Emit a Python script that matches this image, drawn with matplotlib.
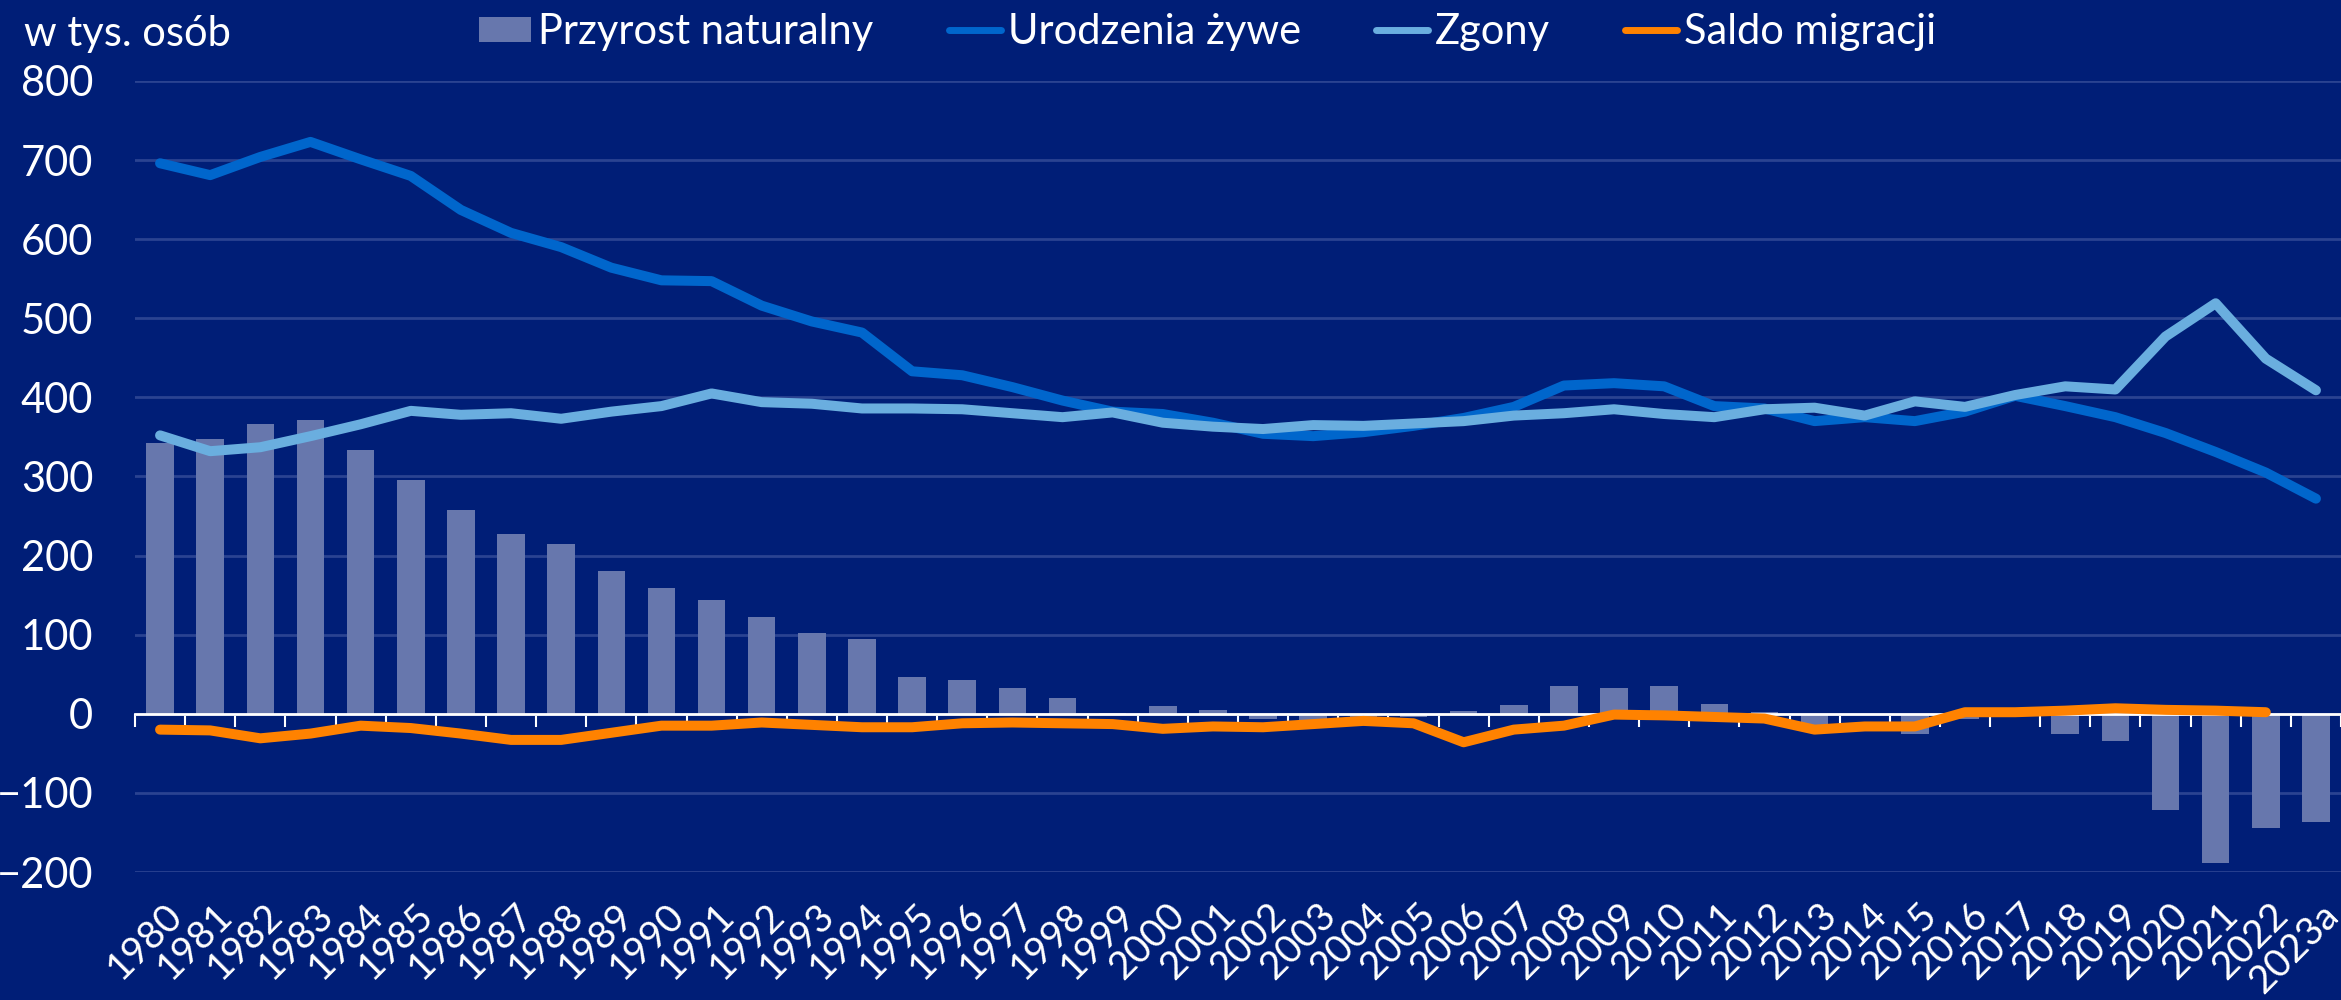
import numpy as np
import matplotlib
matplotlib.use('Agg')
import matplotlib.pyplot as plt
import matplotlib.transforms as mtransforms

# dane (w tys. osób)
lata = [str(r) for r in range(1980, 2023)] + ['2023a']
przyrost = [342, 347, 367, 371, 334, 296, 258, 227, 215, 181, 159, 144, 122, 102, 95,
            47, 43, 32, 20, 1, 10, 5, -6, -14, -7, -4, 4, 11, 35, 33, 35, 13, 2, -18,
            -1, -26, -6, -1, -26, -35, -122, -188, -144, -137]
urodzenia = [696, 681, 704, 723, 701, 680, 637, 608, 590, 564, 548, 547, 516, 496, 482,
             433, 428, 413, 396, 382, 379, 368, 354, 351, 356, 364, 374, 388, 415, 418,
             414, 389, 386, 370, 375, 370, 382, 402, 389, 375, 355, 331, 305, 272]
zgony = [352, 332, 337, 351, 366, 383, 378, 380, 373, 382, 389, 405, 394, 392, 386,
         386, 385, 380, 375, 381, 368, 363, 360, 365, 364, 367, 370, 377, 380, 385,
         379, 375, 385, 387, 377, 395, 388, 403, 414, 410, 477, 519, 449, 409]
saldo = [-20, -21, -31, -25, -15, -18, -25, -33, -33, -24, -15, -15, -11, -14, -17,
         -17, -12, -11, -12, -13, -19, -16, -17, -13, -9, -12, -36, -20, -15, -1,
         -2, -4, -6, -20, -16, -16, 2, 2, 4, 7, 5, 4, 2]

tlo = '#001E77'
plt.rcParams['font.family'] = ['Lato', 'DejaVu Sans']

fig = plt.figure(figsize=(23.41, 10), dpi=100, facecolor=tlo)
ax = fig.add_axes([135 / 2341, 0.128, 1 - 135 / 2341, 0.791])
ax.set_facecolor(tlo)

x = np.arange(len(lata))
b = ax.bar(x, przyrost, width=0.55, color='#6777AD', label='Przyrost naturalny', zorder=1)
l1, = ax.plot(x, urodzenia, color='#0066CC', lw=7.2, solid_capstyle='round',
              label='Urodzenia żywe', zorder=3)
l2, = ax.plot(x, zgony, color='#6AAEDF', lw=7.2, solid_capstyle='round',
              label='Zgony', zorder=3.5)
l3, = ax.plot(x[:len(saldo)], saldo, color='#FF8200', lw=7.2, solid_capstyle='round',
              label='Saldo migracji', zorder=4)

ax.set_xlim(-0.5, 43.27)
ax.set_ylim(-200, 800)
ax.set_yticks(range(-200, 801, 100))
ax.yaxis.grid(True, color='#2A4391', lw=2)
ax.set_axisbelow(True)
ax.tick_params(axis='y', length=0, pad=30, labelsize=30, labelcolor='white')

for s in ['top', 'right', 'left']:
    ax.spines[s].set_visible(False)
ax.spines['bottom'].set_position(('data', 0))
ax.spines['bottom'].set_color('white')
ax.spines['bottom'].set_linewidth(2)
ax.spines['bottom'].set_zorder(2.5)
ax.set_xticks(np.arange(-0.5, len(lata), 1))
ax.tick_params(axis='x', length=9, width=1.5, color='white', labelbottom=False)

# podpisy lat na dole
sec = ax.secondary_xaxis('bottom')
sec.set_xticks(x)
sec.set_xticklabels(lata, rotation=45, ha='right', va='top', rotation_mode='anchor')
sec.tick_params(length=0, pad=18, labelsize=28, labelcolor='white')
sec.spines['bottom'].set_visible(False)
off = mtransforms.ScaledTranslation(4 / 100, 0, fig.dpi_scale_trans)
for lab in sec.get_xticklabels():
    lab.set_transform(lab.get_transform() + off)

fig.text(24 / 2341, 0.985, 'w tys. osób', color='white', fontsize=30, va='top', ha='left')

leg = fig.legend([b, l1, l2, l3], ['Przyrost naturalny', 'Urodzenia żywe', 'Zgony', 'Saldo migracji'],
                 loc='center', bbox_to_anchor=(0.516, 0.968), ncol=4, frameon=False,
                 fontsize=30, labelcolor='white', handlelength=1.25, handleheight=0.55,
                 handletextpad=0.17, columnspacing=1.8, borderaxespad=0)
for h in leg.get_lines():
    h.set_linewidth(5)

fig.savefig('out.png', dpi=100, facecolor=tlo)
